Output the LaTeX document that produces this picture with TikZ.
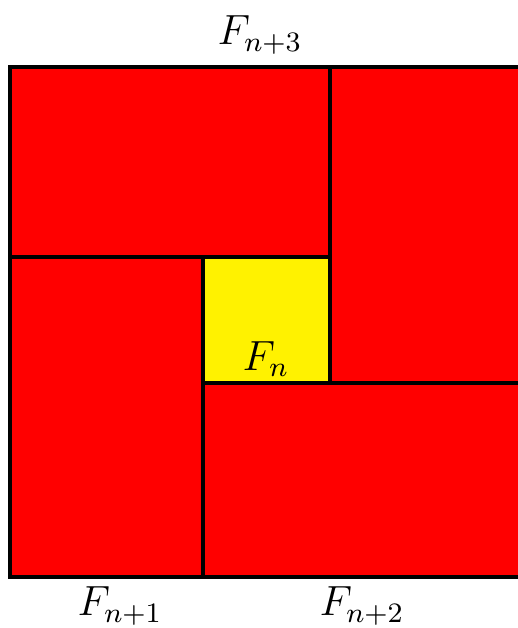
\documentclass[tikz,border=0pt]{standalone}
\usepackage{amsmath}
\usepackage{tikz}
\tikzstyle{blk} = [draw, line width=1.4pt, fill=red]
\tikzstyle{ctr} = [draw, line width=1.4pt, fill=yellow]
\tikzstyle{lbl} = [font=\large, inner sep=0pt]

\begin{document}
\begin{tikzpicture}[x=0.01cm,y=0.01cm]
        \useasboundingbox (0,0) rectangle (517,628);
        \draw[blk] (10,371) rectangle (330,561);
        \draw[blk] (330,245) rectangle (522,561);
        \draw[blk] (10,51) rectangle (203,371);
        \draw[blk] (203,51) rectangle (522,245);
        \draw[ctr] (203,245) rectangle (330,371);
        \node[lbl] (top) at (260,593) {$F_{n+3}$};
        \node[lbl] (left) at (120,22) {$F_{n+1}$};
        \node[lbl] (right) at (362,22) {$F_{n+2}$};
        \node[lbl] (mid) at (266,269) {$F_n$};
      \end{tikzpicture}
\end{document}
